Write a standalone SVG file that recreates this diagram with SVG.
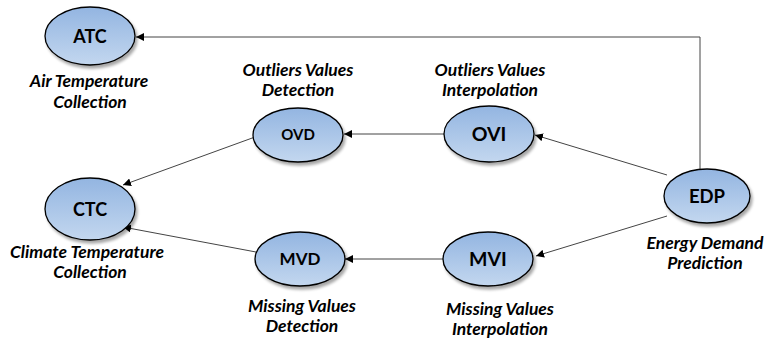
<svg xmlns="http://www.w3.org/2000/svg" width="766" height="341" viewBox="0 0 766 341">
<defs>
<linearGradient id="g" x1="0" y1="0" x2="0" y2="1">
<stop offset="0" stop-color="#93b5e1"/>
<stop offset="1" stop-color="#c3d7ef"/>
</linearGradient>
<filter id="sh" x="-20%" y="-20%" width="150%" height="150%">
<feGaussianBlur in="SourceAlpha" stdDeviation="1.5"/>
<feOffset dx="1.5" dy="2.5" result="b"/>
<feComponentTransfer><feFuncA type="linear" slope="0.35"/></feComponentTransfer>
<feMerge><feMergeNode/><feMergeNode in="SourceGraphic"/></feMerge>
</filter>
<marker id="ah" viewBox="0 0 10 10" refX="10" refY="5" markerWidth="8" markerHeight="8" markerUnits="userSpaceOnUse" orient="auto">
<path d="M0,0 L10,5 L0,10 z" fill="#000"/>
</marker>
</defs>
<style>
.n ellipse{fill:url(#g);stroke:#000;stroke-width:1.3;filter:url(#sh)}
.n text{font-family:Lato,"Open Sans","Liberation Sans",sans-serif;font-weight:bold;text-anchor:middle;fill:#000}
.lb{font-family:Lato,"Open Sans","Liberation Sans",sans-serif;font-weight:bold;font-style:italic;font-size:17.5px;text-anchor:middle;fill:#000}
.c path{fill:none;stroke:#444;stroke-width:1;marker-end:url(#ah)}
</style>
<g class="c" id="connectors">
<path d="M700,169 L700,37 L136,37"/>
<path d="M667,175 L535,135"/>
<path d="M667,216 L536,256"/>
<path d="M444,134 L344,134"/>
<path d="M443,259 L345,259"/>
<path d="M255,137 L123,185"/>
<path d="M256,252 L123,227"/>
</g>
<g class="n" id="ATC"><ellipse cx="90" cy="36" rx="45" ry="29"/><text x="90" y="43" font-size="18">ATC</text></g>
<g class="n" id="CTC"><ellipse cx="90" cy="209" rx="45" ry="31"/><text x="90" y="216" font-size="18">CTC</text></g>
<g class="n" id="OVD"><ellipse cx="298" cy="135" rx="45" ry="27"/><text x="298" y="140" font-size="15">OVD</text></g>
<g class="n" id="OVI"><ellipse cx="489" cy="134" rx="45" ry="28"/><text x="489" y="141" font-size="19.5">OVI</text></g>
<g class="n" id="MVD"><ellipse cx="300" cy="259" rx="45" ry="27"/><text x="300" y="265" font-size="17">MVD</text></g>
<g class="n" id="MVI"><ellipse cx="488" cy="259" rx="45" ry="27"/><text x="488" y="266" font-size="19.5">MVI</text></g>
<g class="n" id="EDP"><ellipse cx="707" cy="196" rx="43" ry="27"/><text x="707" y="203" font-size="18.5">EDP</text></g>
<text class="lb" x="89" y="87">Air Temperature</text>
<text class="lb" x="90" y="108">Collection</text>
<text class="lb" x="298" y="76">Outliers Values</text>
<text class="lb" x="298" y="96">Detection</text>
<text class="lb" x="490" y="76">Outliers Values</text>
<text class="lb" x="490" y="96">Interpolation</text>
<text class="lb" x="87" y="258">Climate Temperature</text>
<text class="lb" x="90" y="278">Collection</text>
<text class="lb" x="302" y="312">Missing Values</text>
<text class="lb" x="302" y="332">Detection</text>
<text class="lb" x="500" y="315">Missing Values</text>
<text class="lb" x="500" y="335">Interpolation</text>
<text class="lb" x="705" y="249">Energy Demand</text>
<text class="lb" x="705" y="269">Prediction</text>
</svg>
